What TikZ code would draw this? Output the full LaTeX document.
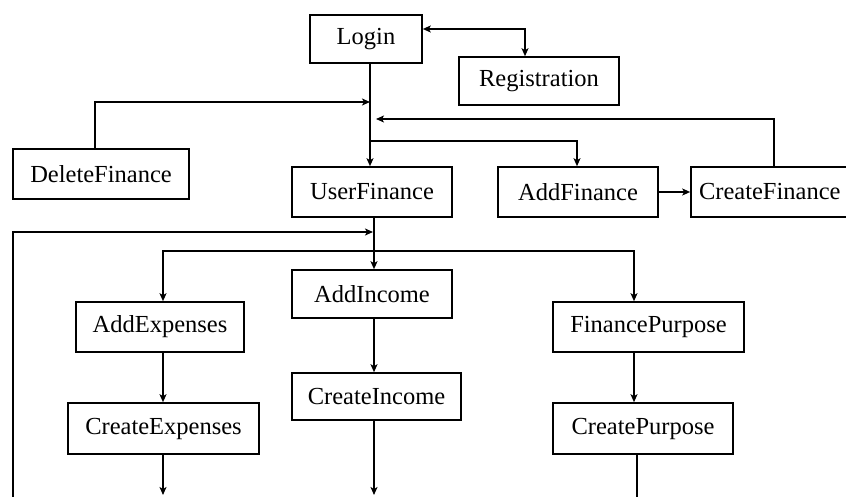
\documentclass[tikz,border=0pt]{standalone}
\usepackage{fontspec}
\setmainfont{Liberation Serif}
\usetikzlibrary{arrows.meta}
\begin{document}
\begin{tikzpicture}[x=1pt,y=-1pt,
  box/.style={draw,line width=1.6pt,rectangle,inner sep=0pt,
    font=\fontsize{24.5}{28}\selectfont},
  link/.style={line width=1.6pt},
  arr/.style={link,-{Stealth[length=8pt,width=7pt,inset=2pt]}},
  biarr/.style={link,{Stealth[length=8pt,width=7pt,inset=2pt]}-{Stealth[length=8pt,width=7pt,inset=2pt]}}]
\useasboundingbox (0,0) rectangle (846,497);

% boxes
\node[box,minimum width=112pt,minimum height=48pt] (login) at (366,39) {Login};
\node[box,minimum width=160pt,minimum height=48pt] (reg) at (539,81) {Registration};
\node[box,minimum width=176pt,minimum height=50pt] (delfin) at (101,174) {DeleteFinance};
\node[box,minimum width=160pt,minimum height=50pt] (userfin) at (372,192) {UserFinance};
\node[box,minimum width=160pt,minimum height=50pt] (addfin) at (578,192) {AddFinance};
\node[box,minimum width=160pt,minimum height=50pt,text width=160pt,align=left] (crfin) at (771,192) {\hspace*{8pt}CreateFinance};
\node[box,minimum width=160pt,minimum height=48pt] (addinc) at (372,294) {AddIncome};
\node[box,minimum width=168pt,minimum height=50pt] (addexp) at (160,327) {AddExpenses};
\node[box,minimum width=191pt,minimum height=51pt] (crexp) at (163.5,428.5) {CreateExpenses};
\node[box,minimum width=169pt,minimum height=47pt] (crinc) at (376.5,396.5) {CreateIncome};
\node[box,minimum width=191pt,minimum height=50pt] (finp) at (648.5,327) {FinancePurpose};
\node[box,minimum width=180pt,minimum height=51pt] (crp) at (643,428.5) {CreatePurpose};

% junction points on the trunks
\coordinate (trunkA) at (370,0);
\coordinate (trunkB) at (374,0);
\coordinate (jdel) at (370,102);
\coordinate (jcr) at (376,119);
\coordinate (jadd) at (370,141);
\coordinate (jloop) at (373,232);
\coordinate (jbr) at (374,251);
\coordinate (loopend) at (13,497);
\coordinate (expend) at (163,495);
\coordinate (incend) at (374,495);
\coordinate (purend) at (637,497);

% connectors around Login and UserFinance
\draw[biarr] ([yshift=10pt]login.east) -| ([xshift=-14pt]reg.north);
\draw[arr] (login.south -| trunkA) -- (userfin.north -| trunkA);
\draw[arr] ([xshift=-6pt]delfin.north) |- (jdel);
\draw[arr] ([xshift=3pt]crfin.north) |- (jcr);
\draw[arr] (jadd) -| ([xshift=-1pt]addfin.north);
\draw[arr] (addfin.east) -- (crfin.west);

% connectors below UserFinance
\draw[arr] (userfin.south -| trunkB) -- (addinc.north -| trunkB);
\draw[arr] (loopend) |- (jloop);
\draw[arr] (jbr) -| ([xshift=3pt]addexp.north);
\draw[arr] (jbr) -| ([xshift=-14.5pt]finp.north);
\draw[arr] ([xshift=3pt]addexp.south) -- (crexp.north -| expend);
\draw[arr] (crexp.south -| expend) -- (expend);
\draw[arr] (addinc.south -| trunkB) -- (crinc.north -| trunkB);
\draw[arr] (crinc.south -| incend) -- (incend);
\draw[arr] ([xshift=-14.5pt]finp.south) -- ([xshift=-9pt]crp.north);
\draw[link] (crp.south -| purend) -- (purend);
\end{tikzpicture}
\end{document}
